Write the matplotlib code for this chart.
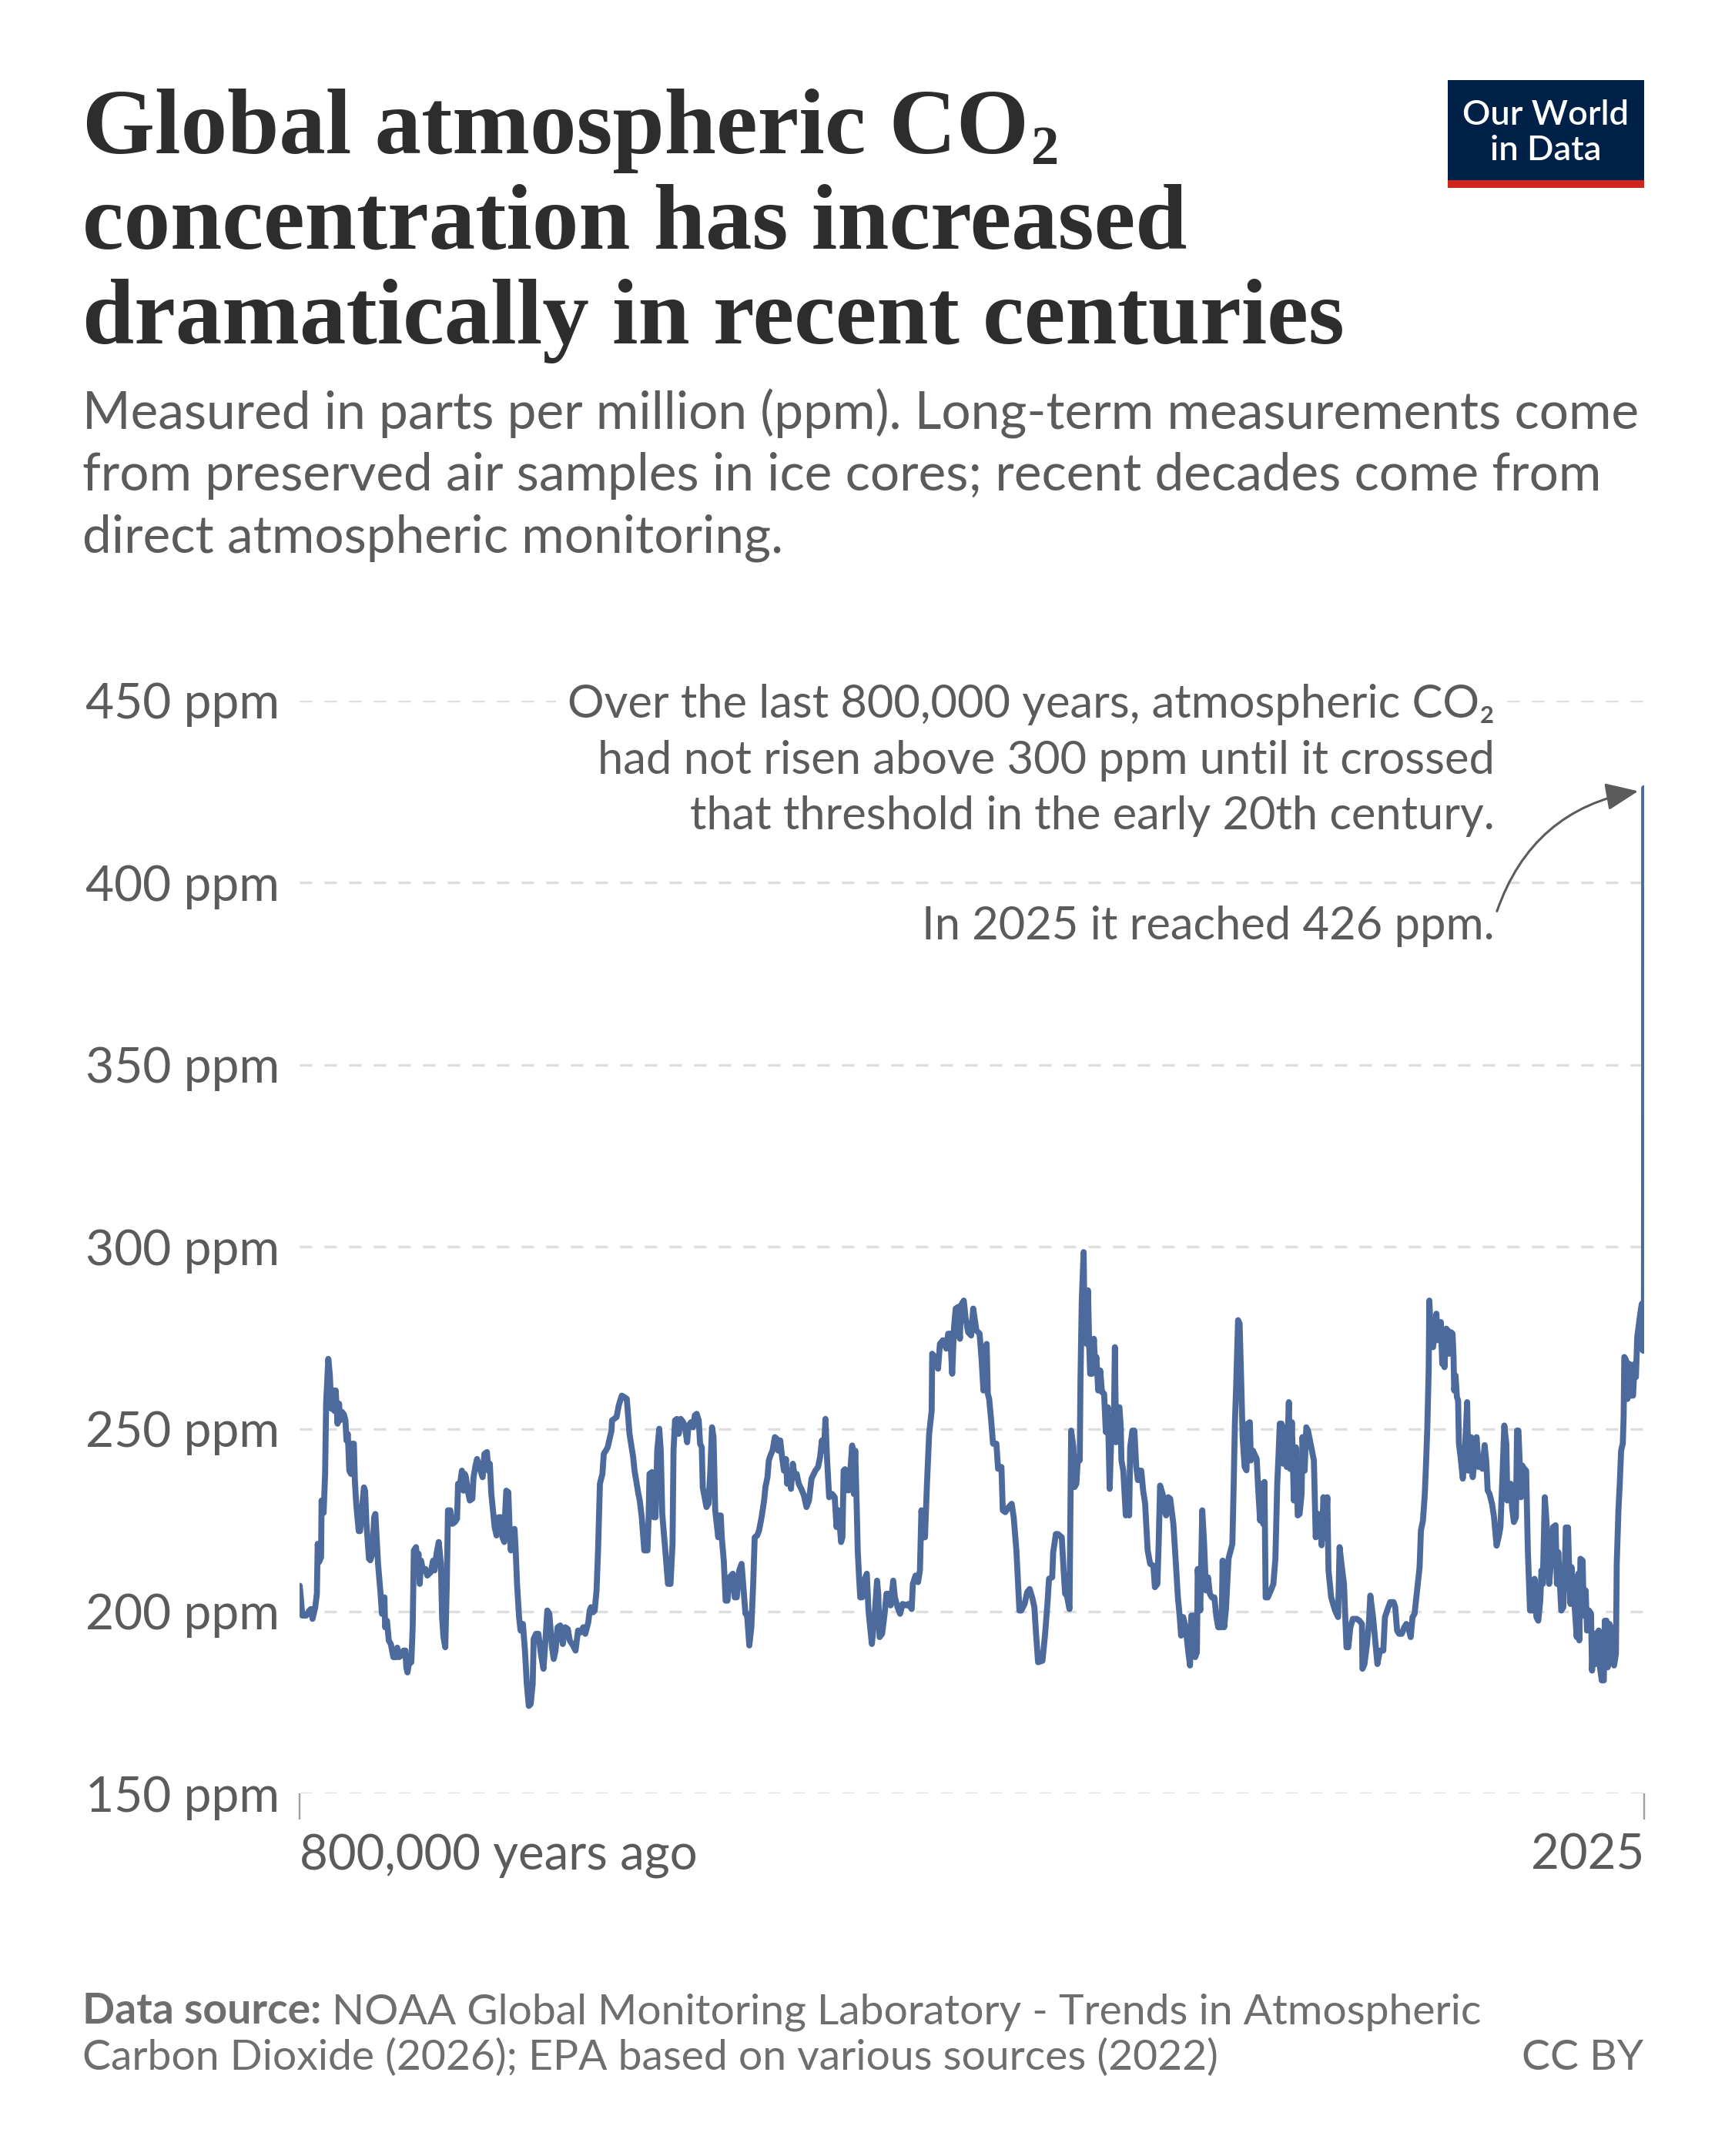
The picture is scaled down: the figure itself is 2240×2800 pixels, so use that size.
import matplotlib
matplotlib.use("Agg")
import matplotlib.pyplot as plt
import matplotlib.transforms as mtransforms
from matplotlib.patches import Rectangle, FancyArrowPatch

# ---------------- data ----------------
# time in thousands of years before 2025, CO2 in ppm
kyr_ago = [
    799.9, 799.1, 798.4, 796.1, 794.5, 793.3, 792.3, 790.7, 789.7, 789.2, 788.4, 787.2, 786.9, 785.7,
    784.8, 784.2, 782.9, 782.0, 781.1, 780.0, 779.3, 778.5, 777.4, 776.5, 775.9, 774.7, 773.6, 772.7,
    772.1, 771.3, 770.4, 769.4, 768.6, 767.7, 767.1, 766.3, 764.8, 764.0, 762.8, 761.7, 761.0, 760.2,
    758.7, 757.9, 756.7, 755.6, 754.9, 753.3, 751.8, 751.0, 750.3, 749.5, 749.1, 748.0, 746.9, 745.7,
    744.2, 742.6, 741.9, 740.8, 739.6, 738.1, 737.0, 736.5, 735.8, 735.0, 733.5, 732.7, 732.0, 730.7,
    730.0, 729.2, 728.5, 727.7, 726.6, 725.1, 724.0, 722.0, 720.5, 719.7, 718.5, 717.2, 715.9, 715.2,
    714.4, 713.3, 712.4, 711.7, 710.3, 709.1, 707.5, 706.3, 705.7, 704.5, 703.4, 702.5, 701.7, 701.0,
    699.9, 698.7, 697.2, 696.5, 695.3, 694.4, 693.5, 692.3, 691.1, 690.0, 688.5, 687.7, 686.8, 685.9,
    684.9, 683.9, 682.8, 681.6, 680.1, 679.3, 678.2, 677.6, 677.0, 675.8, 675.0, 674.3, 673.5, 672.9,
    672.1, 671.5, 670.6, 669.4, 668.5, 667.1, 665.9, 664.8, 663.6, 662.5, 661.3, 660.7, 659.3, 657.9,
    656.4, 654.9, 654.1, 652.6, 651.4, 649.8, 648.8, 647.7, 646.5, 644.9, 643.4, 641.9, 640.4, 639.2,
    637.3, 635.8, 634.3, 632.7, 631.2, 630.0, 628.2, 627.4, 626.6, 625.4, 624.4, 623.3, 622.4, 621.3,
    619.8, 619.0, 617.8, 616.7, 614.4, 614.1, 611.4, 610.1, 608.3, 606.8, 605.3, 603.7, 601.5, 600.7,
    598.4,
    597.6, 596.4, 594.9, 593.0, 592.3, 591.8, 590.3, 589.2, 588.2, 587.2, 586.0, 585.1, 584.2, 582.4,
    580.8, 579.3, 578.1, 577.5, 576.6, 575.5, 574.4, 573.2, 571.7, 570.4, 569.4, 568.6, 567.1, 565.9,
    564.8, 563.7, 562.5, 561.7, 560.7, 560.1, 559.0, 557.9, 556.7, 555.6, 554.6, 553.7, 552.7, 551.8,
    550.9, 550.3, 549.4, 548.8, 547.6, 546.5, 545.4, 544.2, 542.2, 541.1, 539.9, 538.4, 537.0, 535.8,
    534.7, 533.8, 532.4, 531.2, 530.1, 529.2, 527.7, 526.6, 525.1, 523.6, 522.8, 521.6, 520.8, 519.8,
    518.6, 517.2, 516.0, 515.2, 514.0, 512.9, 511.8, 510.6, 509.9, 508.8, 507.6, 506.5, 505.3, 504.2,
    503.0, 501.5, 499.9, 498.4, 496.9, 495.4, 493.1, 491.5, 490.3, 489.2, 488.0, 487.1, 486.2, 484.9,
    483.1, 481.6, 480.5, 479.3, 477.8, 477.0, 476.3, 475.5, 474.3, 473.2, 471.2, 470.2, 469.4, 468.5,
    467.9, 467.1, 466.4, 465.3, 464.1, 462.5, 461.5, 459.5, 457.9, 456.4, 455.7, 454.9, 453.4, 451.9,
    450.8, 449.6, 448.3, 446.8, 445.8, 444.2, 442.7, 441.2, 438.9, 437.7, 435.8, 435.1, 433.5, 432.0,
    430.9, 430.0, 428.9, 427.9, 426.7, 425.4, 423.9, 423.6, 422.1, 420.1, 419.0, 417.2, 415.2, 414.1,
    412.9, 411.7, 410.6, 409.6, 408.3, 407.1, 406.5, 404.8, 403.8, 402.2, 400.4,
    399.2, 397.3, 395.4, 394.3, 393.1, 392.3, 391.2, 390.5, 389.7, 388.5, 387.4, 385.4, 384.4, 382.4,
    381.6, 380.1, 378.1, 376.3, 375.1, 373.5, 372.5, 371.7, 370.6, 368.6, 367.1, 365.6, 364.1, 362.8,
    361.8, 360.6, 358.0, 356.4, 354.9, 354.1, 352.2, 351.6, 350.0, 348.8, 346.5, 345.4, 344.5, 343.5,
    341.9, 340.9, 339.6, 338.9, 337.8, 336.9, 335.8, 335.4, 334.6, 333.5, 332.8, 331.7, 330.9, 330.2,
    329.6, 328.5, 327.4, 326.7, 325.9, 324.8, 323.6, 322.6, 321.3, 320.3, 319.1, 318.0, 316.7, 315.5,
    314.9, 314.2, 313.4, 312.2, 311.4, 311.0, 309.9, 308.4, 307.3, 306.4, 305.8, 304.5, 303.3, 302.2,
    301.2, 300.0, 299.2, 298.1, 296.9, 295.4, 293.9, 292.0, 291.1, 289.6, 288.8, 288.0, 286.5, 285.5,
    284.4, 283.2, 282.0, 280.1, 278.6, 277.4, 276.3, 275.5, 274.3, 272.8, 271.3, 270.2, 269.4, 268.2,
    267.1, 266.1, 265.6, 264.1, 262.9, 261.8, 260.7, 259.5, 258.4, 257.2, 255.7, 254.5, 253.4, 251.4,
    250.8, 249.9, 248.8, 247.3, 245.0, 244.2, 243.5, 242.7, 241.6, 240.7, 239.7, 238.9, 237.7, 236.6,
    235.9, 234.6, 234.0, 232.8, 230.5, 229.7, 228.5, 227.4, 226.7, 225.9, 225.2, 223.9, 222.1, 220.6,
    219.4, 218.3, 217.5, 216.8, 215.7, 214.8, 213.7, 212.6, 211.4, 210.7, 209.6, 208.4, 207.2, 206.1,
    205.0, 203.8, 203.3, 202.0, 201.0, 200.0,
    196.5, 195.4, 193.9, 192.8, 191.9, 190.8, 189.7, 188.5, 187.8, 186.2, 183.9, 182.1, 181.2, 180.1,
    178.6, 177.1, 176.0, 174.8, 173.3, 171.0, 169.4, 167.9, 167.6, 166.4, 164.9, 163.8, 162.9, 161.3,
    159.8, 158.7, 157.2, 155.2, 154.2, 152.6, 151.1, 149.1, 148.1, 147.0, 145.8, 144.2, 142.7, 141.5,
    140.4, 138.9, 137.8, 136.6, 135.1, 133.6, 132.8, 131.6, 130.5, 129.7, 129.0, 128.2, 127.8, 126.7,
    125.6, 124.7, 123.6, 122.9, 121.8, 121.0, 120.1, 119.5, 118.8, 117.8, 116.8, 116.0, 114.9, 114.0,
    113.4, 113.0, 112.2, 111.4, 110.7, 110.2, 109.2, 107.9, 106.9, 105.3, 104.6, 103.8, 103.0, 102.0,
    100.7, 99.7, 98.5, 97.2, 96.2, 94.9, 93.9, 93.1, 92.0, 90.5, 89.3, 87.8, 86.6, 85.5,
    84.4, 83.2, 82.0, 81.4, 80.4, 79.4, 78.6, 77.5, 76.3, 75.6, 74.8, 74.0, 73.3, 72.5,
    71.3, 70.2, 69.2, 67.9, 66.4, 65.2, 64.1, 63.0, 61.8, 61.1, 60.3, 59.1, 58.0, 57.2,
    56.5, 55.7, 54.2, 52.7, 51.9, 51.1, 50.4, 49.3, 48.1, 47.3, 46.6, 45.3, 44.6, 43.8,
    43.2, 42.7, 42.0, 41.2, 40.1, 39.2, 38.6, 37.9, 36.6, 35.9, 34.8, 34.0, 32.8, 31.6,
    31.0, 30.1, 29.0, 28.2, 27.0, 26.3, 25.2, 24.0, 23.4, 22.4, 21.7, 20.6, 19.8, 19.1,
    17.9, 16.8, 16.3, 15.7, 15.3, 14.5, 13.7, 12.7, 12.2, 11.8, 10.7, 9.9, 8.7, 7.6,
    6.6, 5.7, 4.9, 4.1, 3.1, 2.3, 1.4, 0.8, 0.5, 0.25, 0.15, 0.08, 0.03, 0.0,
]
co2_ppm = [
    207.0, 203.0, 198.8, 198.8, 200.0, 200.6, 197.9, 201.0, 204.8, 218.5, 213.5, 214.8, 230.4, 227.0,
    237.7, 257.0, 269.3, 265.0, 255.6, 260.6, 255.0, 260.6, 251.5, 257.0, 252.4, 254.7, 254.0, 252.4,
    246.9, 248.7, 238.6, 237.7, 246.0, 246.0, 235.9, 229.5, 222.0, 222.0, 228.6, 234.0, 233.0, 224.0,
    214.4, 214.0, 215.8, 225.8, 226.7, 213.0, 204.8, 199.3, 199.3, 203.8, 195.6, 197.4, 191.9, 191.0,
    187.4, 187.4, 190.0, 187.4, 187.8, 189.2, 189.2, 184.6, 183.2, 185.5, 186.0, 195.6, 216.7, 217.6,
    213.9, 215.8, 207.5, 213.9, 211.2, 211.6, 209.8, 210.7, 213.9, 211.2, 215.8, 219.0, 213.0, 198.4,
    192.9, 190.1, 207.5, 227.7, 227.7, 224.0, 224.5, 225.4, 235.0, 235.0, 238.6, 233.1, 237.7, 236.8,
    233.1, 230.4, 230.9, 236.8, 240.0, 241.8, 240.5, 238.6, 236.8, 243.2, 243.7, 238.6, 240.5, 232.2,
    227.7, 223.0, 220.8, 225.8, 225.8, 220.3, 219.0, 227.7, 233.1, 232.7, 222.2, 216.7, 222.2, 219.4,
    222.6, 217.6, 207.5, 198.4, 194.7, 196.5, 189.2, 180.0, 174.0, 174.5, 180.0, 192.4, 193.8, 193.8,
    188.3, 184.2, 189.2, 200.2, 199.3, 190.1, 186.9, 189.2, 195.6, 196.1, 191.0, 195.6, 195.1, 191.9,
    190.6, 189.2, 194.7, 194.2, 195.6, 193.8, 197.0, 200.2, 201.1, 199.7, 200.2, 205.7, 216.7, 235.0,
    237.7, 243.2, 244.1, 245.0, 249.6, 252.4, 253.3, 256.5, 259.2, 258.8, 258.3, 248.7, 242.3, 238.6,
    232.2,
    230.4, 225.8, 216.7, 216.7, 225.8, 237.7, 238.2, 225.8, 225.8, 244.1, 250.1, 244.1, 226.7, 216.7,
    207.5, 207.5, 218.5, 244.1, 252.4, 252.8, 248.7, 252.8, 251.9, 249.6, 246.4, 251.0, 251.9, 250.5,
    253.8, 254.2, 252.4, 246.0, 245.0, 234.0, 231.3, 228.6, 229.5, 238.6, 250.5, 247.8, 227.7, 224.0,
    220.3, 226.3, 226.3, 220.3, 213.9, 202.9, 202.9, 209.3, 210.3, 203.8, 203.8, 211.2, 213.0, 205.7,
    199.3, 199.3, 190.6, 195.6, 207.5, 220.3, 220.8, 222.2, 225.8, 230.4, 234.1, 236.8, 241.4, 242.8,
    244.1, 247.8, 247.3, 244.1, 246.9, 242.3, 238.6, 241.8, 235.0, 238.6, 233.6, 240.5, 236.8, 237.7,
    235.0, 233.6, 231.8, 228.6, 230.4, 236.4, 238.6, 239.6, 242.3, 246.9, 244.1, 252.8, 242.3, 231.3,
    232.2, 231.3, 223.1, 227.7, 219.0, 220.3, 238.6, 239.0, 233.2, 233.2, 245.5, 232.2, 244.1, 228.6,
    216.7, 209.3, 203.8, 203.8, 208.4, 210.3, 200.2, 191.0, 198.4, 208.4, 204.8, 192.9, 193.8, 199.3,
    204.8, 204.8, 201.6, 208.4, 203.8, 201.1, 199.3, 202.0, 201.6, 202.0, 200.6, 207.5, 209.8, 208.0,
    211.2, 227.7, 220.3, 220.3, 235.0, 248.7, 255.1, 270.7, 269.8, 266.6, 273.4, 274.4, 272.1, 276.2,
    276.2, 265.2, 278.0, 283.1, 283.5, 274.8, 284.0, 285.3, 280.8, 276.6, 275.7,
    283.1, 277.1, 276.2, 269.8, 260.6, 271.6, 273.4, 259.7, 258.3, 252.4, 246.0, 246.0, 239.1, 239.6,
    227.7, 227.2, 228.6, 229.5, 225.8, 216.7, 207.5, 200.2, 200.2, 202.0, 205.2, 206.1, 203.8, 201.1,
    193.8, 186.0, 186.4, 193.8, 202.9, 208.9, 209.3, 216.2, 221.2, 221.2, 220.3, 211.2, 204.8, 204.4,
    200.6, 249.6, 245.0, 234.1, 235.0, 242.3, 241.4, 262.5, 285.3, 298.6, 274.4, 273.4, 288.1, 273.4,
    265.2, 265.2, 274.8, 267.9, 269.8, 260.6, 266.1, 260.2, 259.7, 249.2, 256.0, 233.6, 253.3, 251.5,
    272.5, 246.4, 256.0, 256.0, 250.5, 241.4, 238.6, 226.3, 227.7, 226.3, 245.0, 249.6, 249.6, 239.6,
    236.0, 238.6, 238.6, 233.2, 229.5, 216.7, 213.0, 212.5, 206.6, 207.5, 219.4, 234.5, 232.2, 227.7,
    226.3, 231.3, 230.9, 224.0, 213.0, 203.8, 198.4, 193.3, 198.4, 195.6, 189.2, 185.1, 198.8, 198.8,
    187.4, 188.7, 211.6, 200.2, 227.7, 218.5, 205.7, 209.3, 204.8, 203.8, 203.8, 198.4, 195.6, 195.6,
    213.9, 195.6, 200.6, 214.4, 218.5, 235.0, 251.5, 262.5, 279.9, 279.0, 262.5, 247.8, 239.6, 238.7,
    251.5, 251.9, 241.4, 244.1, 241.8, 234.1, 224.9, 235.0, 224.0, 235.5, 203.8, 203.8, 205.7, 207.5,
    214.4, 235.0, 243.2, 251.5, 251.5, 240.5, 250.5, 239.6, 257.4, 239.1, 251.9, 230.4, 245.0, 226.3,
    226.7, 232.2, 247.8, 238.6, 250.5, 249.6,
    241.4, 220.3, 226.7, 225.8, 218.1, 231.3, 220.3, 231.3, 211.2, 203.8, 200.2, 198.4, 217.6, 213.0,
    207.5, 190.1, 190.1, 195.6, 197.9, 197.9, 197.4, 196.5, 184.2, 185.5, 191.0, 196.5, 204.3, 198.4,
    191.0, 185.5, 189.2, 189.2, 198.4, 200.6, 202.5, 202.5, 201.1, 194.7, 193.8, 193.8, 195.6, 196.5,
    195.6, 192.9, 198.4, 199.3, 205.7, 212.1, 222.2, 224.9, 232.2, 241.4, 250.5, 266.1, 285.3, 273.4,
    272.5, 276.2, 281.7, 274.4, 277.1, 279.4, 267.9, 272.5, 267.0, 277.6, 277.1, 270.7, 276.6, 276.2,
    269.8, 260.6, 264.7, 258.8, 257.9, 246.0, 242.3, 236.4, 241.4, 257.4, 238.6, 244.1, 247.8, 236.8,
    242.3, 247.8, 239.6, 241.9, 239.1, 245.6, 241.0, 233.2, 232.2, 229.5, 225.8, 218.0, 220.3, 223.1,
    235.9, 251.0, 246.0, 230.4, 231.8, 235.0, 228.6, 224.5, 225.8, 249.6, 249.6, 240.5, 231.3, 240.0,
    239.1, 238.6, 216.7, 200.2, 200.2, 208.9, 198.4, 197.4, 202.9, 211.2, 207.5, 231.3, 224.0, 214.8,
    207.5, 212.1, 223.1, 223.6, 207.5, 216.2, 209.8, 200.2, 201.1, 209.8, 223.0, 223.0, 211.2, 202.0,
    212.1, 203.8, 206.6, 200.2, 192.9, 210.3, 192.0, 214.4, 213.9, 198.8, 205.7, 194.7, 200.2, 199.3,
    183.7, 193.8, 185.5, 193.8, 194.7, 184.6, 181.0, 181.0, 197.4, 197.4, 184.6, 196.5, 186.4, 195.6,
    185.1, 188.3, 213.0, 222.2, 227.7, 235.0, 244.1, 246.0, 253.3, 269.8, 268.9, 258.3, 267.9, 259.2,
    259.2, 267.9, 264.3, 275.3, 278.9, 281.7, 284.4, 271.6, 284.4, 271.6, 280.0, 300.0, 340.0, 426.0,
]

y_ticks = [150, 200, 250, 300, 350, 400, 450]
y_tick_labels = [f"{v} ppm" for v in y_ticks]
x_ticks = [800, 0]
x_tick_labels = ["800,000 years ago", "2025"]

title_line1_main = "Global atmospheric CO"
title_line1_sub = "2"
title_lines_rest = ["concentration has increased",
                    "dramatically in recent centuries"]
subtitle_lines = ["Measured in parts per million (ppm). Long-term measurements come",
                  "from preserved air samples in ice cores; recent decades come from",
                  "direct atmospheric monitoring."]
note_lines = ["Over the last 800,000 years, atmospheric CO\u2082",
              "had not risen above 300 ppm until it crossed",
              "that threshold in the early 20th century."]
note_last = "In 2025 it reached 426 ppm."
source_bold = "Data source:"
source_line1 = " NOAA Global Monitoring Laboratory - Trends in Atmospheric"
source_line2 = "Carbon Dioxide (2026); EPA based on various sources (2022)"
license_text = "CC BY"

# ---------------- layout ----------------
W, H, DPI = 2240, 2800, 100
SANS = ['Lato', 'DejaVu Sans']
SERIF = ['Liberation Serif', 'DejaVu Serif']
plt.rcParams['font.family'] = SANS

LINE_C = '#4c6a9c'
TEXT_C = '#5b5b5b'
TITLE_C = '#2d2d2d'
GRID_C = '#dedede'
FOOT_C = '#6e6e6e'

fig = plt.figure(figsize=(W / DPI, H / DPI), dpi=DPI)
fig.patch.set_facecolor('white')
renderer = fig.canvas.get_renderer()


def fx(x):
    return x / W


def fy(y):
    return 1 - y / H


def width_of(s, size, family, weight='normal'):
    t = fig.text(0, 0, s, fontsize=size, family=family, fontweight=weight)
    w = t.get_window_extent(renderer=renderer).width
    t.remove()
    return w


def fitted(s, target_w, family, weight='normal', probe=40.0):
    return probe * target_w / width_of(s, probe, family, weight)


# axes
AX_L, AX_R, AX_T, AX_B = 389, 2135, 910, 2329
ax = fig.add_axes([fx(AX_L), fy(AX_B), (AX_R - AX_L) / W, (AX_B - AX_T) / H])
ax.set_facecolor('none')
for sp in ax.spines.values():
    sp.set_visible(False)

ax.plot(kyr_ago, co2_ppm, color=LINE_C, lw=5.6, solid_joinstyle='round',
        solid_capstyle='round', zorder=3)
ax.set_xlim(800, 0)
ax.set_ylim(150, 450)

ax.set_yticks(y_ticks)
ytick_size = fitted("450 ppm", 252, SANS)
ax.set_yticklabels(y_tick_labels, fontsize=ytick_size, color=TEXT_C, family=SANS)
ax.tick_params(axis='y', length=0, pad=26 * 72 / DPI)
ax.grid(axis='y', color=GRID_C, linestyle=(0, (4.8, 4.8)), linewidth=2.4, zorder=0)
ax.set_axisbelow(True)

ax.set_xticks(x_ticks)
ax.set_xticklabels(['', ''])
ax.tick_params(axis='x', length=34 * 72 / DPI, width=2.4 * 72 / DPI, color='#a0a0a0',
               direction='out')

xlab_size = fitted(x_tick_labels[0], 516, SANS)
bt = mtransforms.blended_transform_factory(ax.transData, fig.transFigure)
ax.text(x_ticks[0], fy(2428), x_tick_labels[0], transform=bt, ha='left', va='baseline',
        fontsize=xlab_size, color=TEXT_C, family=SANS)
ax.text(x_ticks[1], fy(2428), x_tick_labels[1], transform=bt, ha='right', va='baseline',
        fontsize=xlab_size, color=TEXT_C, family=SANS)

# title
title_size = fitted(title_lines_rest[0], 1432, SERIF, 'bold')
fig.text(fx(107), fy(199), title_line1_main, fontsize=title_size, fontweight='bold',
         family=SERIF, color=TITLE_C, ha='left', va='baseline')
w_main = width_of(title_line1_main, title_size, SERIF, 'bold')
fig.text(fx(107 + w_main + 3), fy(199 + 14), title_line1_sub, fontsize=title_size * 0.6,
         fontweight='bold', family=SERIF, color=TITLE_C, ha='left', va='baseline')
for s, yb in zip(title_lines_rest, [323, 446]):
    fig.text(fx(107), fy(yb), s, fontsize=title_size, fontweight='bold', family=SERIF,
             color=TITLE_C, ha='left', va='baseline')

# subtitle
sub_size = fitted(subtitle_lines[0], 2022, SANS)
for s, yb in zip(subtitle_lines, [557, 637, 717]):
    fig.text(fx(107), fy(yb), s, fontsize=sub_size, family=SANS, color=TEXT_C,
             ha='left', va='baseline')

# logo
fig.add_artist(Rectangle((fx(1880), fy(234)), (2135 - 1880) / W, (234 - 104) / H,
                         transform=fig.transFigure, facecolor='#002147', edgecolor='none'))
fig.add_artist(Rectangle((fx(1880), fy(244)), (2135 - 1880) / W, 10 / H,
                         transform=fig.transFigure, facecolor='#ce261e', edgecolor='none'))
logo_size = fitted("Our World", 216, SANS, 'semibold')
fig.text(fx(2007), fy(162), "Our World", fontsize=logo_size, fontweight='semibold',
         family=SANS, color='white', ha='center', va='baseline')
fig.text(fx(2007), fy(208), "in Data", fontsize=logo_size, fontweight='semibold',
         family=SANS, color='white', ha='center', va='baseline')

# annotation
note_size = fitted(note_lines[0], 1204, SANS)
for s, yb in zip(note_lines, [932, 1005, 1077]):
    fig.text(fx(1941), fy(yb), s, fontsize=note_size, family=SANS, color=TEXT_C,
             ha='right', va='baseline', zorder=5,
             bbox=dict(boxstyle='square,pad=0.25', facecolor='white', edgecolor='none'))
fig.text(fx(1941), fy(1220), note_last, fontsize=note_size, family=SANS, color=TEXT_C,
         ha='right', va='baseline', zorder=5)

arrow = FancyArrowPatch((fx(1943), fy(1186)), (fx(2130), fy(1027)),
                        transform=fig.transFigure,
                        connectionstyle='arc3,rad=-0.3',
                        arrowstyle='-|>,head_length=1.3,head_width=0.55',
                        mutation_scale=20, color=TEXT_C, lw=2.2, zorder=6)
fig.add_artist(arrow)

# footer
foot_probe = 30.0
wb = width_of(source_bold, foot_probe, SANS, 'bold')
wr = width_of(source_line1, foot_probe, SANS)
foot_size = foot_probe * 1817 / (wb + wr)
wb = width_of(source_bold, foot_size, SANS, 'bold')
fig.text(fx(107), fy(2628), source_bold, fontsize=foot_size, fontweight='bold',
         family=SANS, color=FOOT_C, ha='left', va='baseline')
fig.text(fx(107 + wb), fy(2628), source_line1, fontsize=foot_size, family=SANS,
         color=FOOT_C, ha='left', va='baseline')
fig.text(fx(107), fy(2688), source_line2, fontsize=foot_size, family=SANS,
         color=FOOT_C, ha='left', va='baseline')
fig.text(fx(2134), fy(2688), license_text, fontsize=foot_size, family=SANS,
         color=FOOT_C, ha='right', va='baseline')

fig.savefig('out.png', dpi=DPI, facecolor='white')
